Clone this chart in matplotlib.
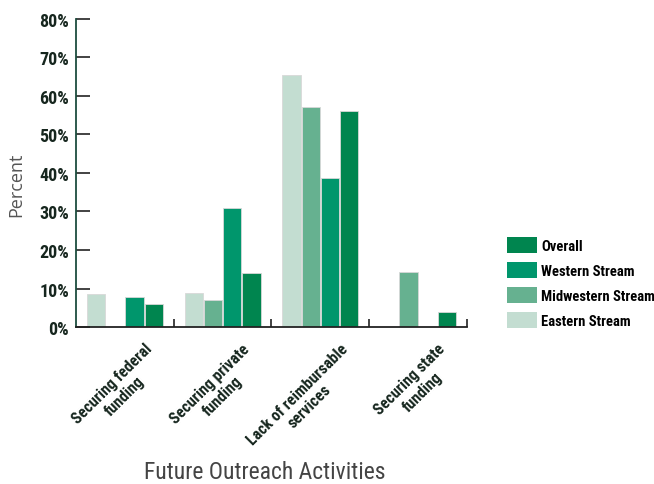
import matplotlib
matplotlib.use("Agg")
import matplotlib.pyplot as plt
import numpy as np
from matplotlib.patches import Patch

categories = ["Securing federal\nfunding", "Securing private\nfunding",
              "Lack of reimbursable\nservices", "Securing state\nfunding"]
series_names = ["Eastern Stream", "Midwestern Stream", "Western Stream", "Overall"]
eastern = [8.7, 8.8, 65.4, 0]
midwestern = [0, 7.1, 57.2, 14.4]
western = [7.7, 30.8, 38.6, 0]
overall = [6.0, 13.9, 56.1, 4.0]
yticks = [0, 10, 20, 30, 40, 50, 60, 70, 80]
colors = ["#c3ddd1", "#66b190", "#00966c", "#00854f"]

cond = ["Roboto Condensed", "DejaVu Sans"]
fig = plt.figure(figsize=(6.54, 4.85), dpi=100)
ax = fig.add_axes([0.1162, 0.3237, 0.714 - 0.1162, 0.9588 - 0.3237])

data = [eastern, midwestern, western, overall]
x = np.arange(len(categories))
w = 0.197
for i, (vals, c, n) in enumerate(zip(data, colors, series_names)):
    ax.bar(x + (i - 1.5) * w, vals, width=w * 0.95, color=c, label=n,
           edgecolor="#d8d8d8", linewidth=0.6)

ax.set_xlim(-0.5, 3.5)
ax.set_ylim(0, 80)
ax.set_yticks(yticks)
ax.set_yticklabels([f"{t}%" for t in yticks], fontsize=13, fontweight="bold",
                   color="#16261e", family=cond)
ax.tick_params(axis="y", direction="in", length=10, width=1.2, color="#222222", pad=5)
ax.set_xticks([0.5, 1.5, 2.5, 3.5])
ax.set_xticklabels([])
ax.tick_params(axis="x", direction="in", length=6, width=1.2, color="#222222")
for s in ["top", "right"]:
    ax.spines[s].set_visible(False)
ax.spines["left"].set_color("#1d4d3f")
ax.spines["left"].set_linewidth(1.3)
ax.spines["bottom"].set_color("#222222")
ax.spines["bottom"].set_linewidth(1.3)

for xi, lab in zip(x, categories):
    ax.text(xi + 0.2, -3.5, lab, rotation=45, ha="right", va="top",
            rotation_mode="anchor", multialignment="center", fontsize=11.5,
            fontweight="bold", color="#16261e", family=cond)

fig.text(16 / 654, 1 - 185 / 485, "Percent", rotation=90, fontsize=13, color="#555555",
         ha="center", va="center", family=["Open Sans", "DejaVu Sans"])
fig.text(265 / 654, 1 - 473 / 485, "Future Outreach Activities", fontsize=17, color="#444444",
         ha="center", va="center", family=cond)

handles = [Patch(facecolor=c, label=n) for c, n in zip(colors, series_names)][::-1]
fig.legend(handles=handles, loc="upper left", bbox_to_anchor=(507 / 654, 1 - 238 / 485),
           frameon=False, prop={"weight": "bold", "size": 10.5, "family": cond},
           handlelength=2.05, handleheight=1.3, labelspacing=0.62, handletextpad=0.3,
           borderaxespad=0, borderpad=0)

fig.savefig("out.png", dpi=100)
